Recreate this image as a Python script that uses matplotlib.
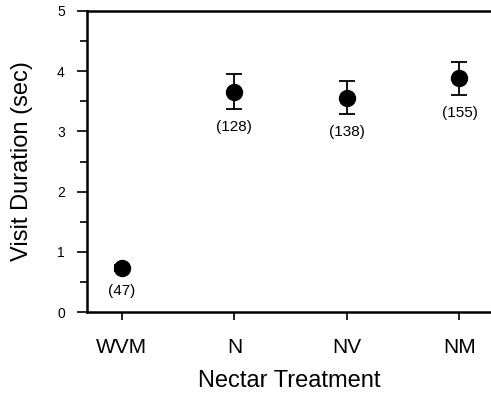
import matplotlib
matplotlib.use("Agg")
import matplotlib.pyplot as plt
from matplotlib.ticker import MultipleLocator

categories = ["WVM", "N", "NV", "NM"]
means = [0.73, 3.66, 3.56, 3.88]
errors = [0.05, 0.29, 0.27, 0.27]
counts = ["(47)", "(128)", "(138)", "(155)"]

plt.rcParams['font.family'] = ['Liberation Sans', 'DejaVu Sans']

fig = plt.figure(figsize=(4.91, 3.93), dpi=100)
ax = fig.add_axes([87/491, 1-312/393, 1-87/491, 301/393])

x = list(range(len(categories)))
ax.errorbar(x, means, yerr=errors, fmt='o', color='black', ms=11.5,
            capsize=5.5, elinewidth=1.3, capthick=1.3)
for xi, m, e, c in zip(x, means, errors, counts):
    ax.annotate(c, (xi, m - e), xytext=(0, -8 if e > 0.1 else -9), textcoords='offset points',
                ha='center', va='top', fontsize=11)

ax.set_xlim(-0.31, 3.28)
ax.set_ylim(0, 5)
ax.set_xticks(x)
ax.set_xticklabels(categories, fontsize=15)
ax.set_yticks([0, 1, 2, 3, 4, 5])
ax.yaxis.set_minor_locator(MultipleLocator(0.5))
ax.tick_params(axis='y', which='major', direction='out', length=7, width=1.2, labelsize=10, pad=9)
ax.tick_params(axis='y', which='minor', direction='out', length=5, width=1.2)
ax.tick_params(axis='x', which='major', direction='out', length=6, width=1.2, pad=13)
ax.spines['right'].set_visible(False)
for s in ['left', 'bottom', 'top']:
    ax.spines[s].set_linewidth(1.8)
ax.set_xlabel("Nectar Treatment", fontsize=17, labelpad=9)
ax.set_ylabel("Visit Duration (sec)", fontsize=17, labelpad=17)

fig.savefig("out.png", dpi=100)
